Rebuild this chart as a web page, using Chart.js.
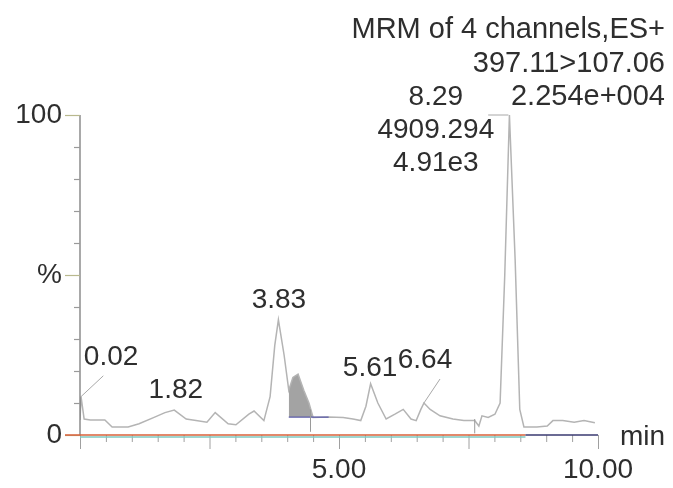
<!DOCTYPE html>
<html>
<head>
<meta charset="utf-8">
<script src="https://cdn.jsdelivr.net/npm/chart.js@4/dist/chart.umd.min.js"></script>
<style>
html,body{margin:0;padding:0;background:#fff;}
#c{display:block;}
</style>
</head>
<body>
<canvas id="c" width="673" height="488"></canvas>
<script>
// ---- data (retention time in min, relative intensity in %) ----
const times = [0.0,0.02,0.08,0.2,0.48,0.62,0.93,1.14,1.43,1.64,1.82,2.05,2.24,2.45,2.61,2.86,3.01,3.26,3.36,3.55,3.67,3.76,3.83,3.94,4.03,4.11,4.21,4.32,4.42,4.5,4.8,5.08,5.27,5.42,5.52,5.61,5.75,5.91,6.08,6.24,6.39,6.49,6.58,6.64,6.76,6.95,7.2,7.41,7.62,7.7,7.76,7.88,8.01,8.11,8.2,8.29,8.4,8.49,8.57,8.82,9.02,9.13,9.32,9.54,9.73,9.94];
const intensity = [4.7,12,5,4.7,4.7,2.5,2.5,3.5,5.5,7,7.8,5,4.5,4,7,3.5,3.2,6.5,7.5,4.5,12,28,36,25,14,18,19,14,10,5.5,5.6,5.5,5,4.5,9,16,10,5,6.5,8,5,4.5,8,10,8,6,5,4.5,4.5,2.8,6,5.5,6.5,10,50,100,55,8,2.5,2.5,2.8,4.5,4.5,4,4.5,3.8];
const shadeRange = [4.03, 4.5];
const integrationBaseline = 5.6;
const integrationRange = [4.03, 4.8];
const peakTimes = [0.02, 1.82, 3.83, 5.61, 6.64, 8.29];
const peakLabels = ['0.02', '1.82', '3.83', '5.61', '6.64', '8.29'];
const mainPeakInfo = ['4909.294', '4.91e3'];
const headerLines = ['MRM of 4 channels,ES+', '397.11>107.06', '2.254e+004'];
const xTickLabels = {5: '5.00', 10: '10.00'};
const yTickLabels = {0: '0', 50: '%', 100: '100'};
const xUnit = 'min';

// ---- derived datasets ----
const trace = times.map((t, i) => ({x: t, y: intensity[i]}));
const shade = trace.filter(p => p.x >= shadeRange[0] && p.x <= shadeRange[1]);
const integ = integrationRange.map(t => ({x: t, y: integrationBaseline}));

const FONT = "'Liberation Sans', Arial, sans-serif";
const FS = 28;
const TXT = '#2e2e2e';

// label placement (data units) for annotations
const labelPos = {
  '0.02': {x: 0.6, y: 24.4, lead: [[0.02, 12], [0.45, 18.5]]},
  '1.82': {x: 1.85, y: 14},
  '3.83': {x: 3.84, y: 42},
  '5.61': {x: 5.6, y: 21},
  '6.64': {x: 6.66, y: 23.4, lead: [[6.64, 10], [6.95, 17.5]]},
  '8.29': {x: 6.87, y: 105.6, lead: [[7.88, 100], [8.27, 100]]}
};

const decor = {
  id: 'decor',
  afterDraw(chart) {
    const ctx = chart.ctx, xs = chart.scales.x, ys = chart.scales.y;
    const X = v => xs.getPixelForValue(v), Y = v => ys.getPixelForValue(v);
    ctx.save();
    // y axis line
    ctx.strokeStyle = '#6f6f6f'; ctx.lineWidth = 1.2;
    ctx.beginPath(); ctx.moveTo(X(0), Y(100)); ctx.lineTo(X(0), Y(0)); ctx.stroke();
    // y ticks
    for (let v = 0; v <= 100; v += 10) {
      const major = v % 50 === 0;
      ctx.strokeStyle = major ? '#b9b98e' : '#9a9a9a';
      ctx.beginPath();
      ctx.moveTo(X(0) - (major ? 15 : 6), Y(v) + 0.5);
      ctx.lineTo(X(0), Y(v) + 0.5);
      ctx.stroke();
    }
    // x ticks
    ctx.strokeStyle = '#a0a0a0'; ctx.lineWidth = 1;
    for (let i = 0; i <= 20; i++) {
      const t = i * 0.5;
      const major = i % 5 === 0;
      ctx.beginPath();
      ctx.moveTo(X(t) + 0.5, Y(0));
      ctx.lineTo(X(t) + 0.5, Y(0) + (major ? 14 : 7));
      ctx.stroke();
    }
    // x axis line (coloured overlays like the original)
    ctx.lineWidth = 1.4;
    ctx.strokeStyle = '#7fc8c0';
    ctx.beginPath(); ctx.moveTo(X(0), Y(0) + 2); ctx.lineTo(X(8.6), Y(0) + 2); ctx.stroke();
    ctx.strokeStyle = '#d9603a';
    ctx.beginPath(); ctx.moveTo(X(0) - 15, Y(0)); ctx.lineTo(X(8.6), Y(0)); ctx.stroke();
    ctx.strokeStyle = '#3a3a70';
    ctx.beginPath(); ctx.moveTo(X(8.6), Y(0)); ctx.lineTo(X(10), Y(0)); ctx.stroke();
    // markers
    ctx.strokeStyle = '#9a9a9a'; ctx.lineWidth = 1;
    [[4.45, 8, 1], [7.62, 5, 0.5]].forEach(m => {
      ctx.beginPath(); ctx.moveTo(X(m[0]), Y(m[1])); ctx.lineTo(X(m[0]), Y(m[2])); ctx.stroke();
    });
    // leaders
    ctx.strokeStyle = '#a8a8a8'; ctx.lineWidth = 1;
    Object.values(labelPos).forEach(p => {
      if (!p.lead) return;
      ctx.beginPath();
      ctx.moveTo(X(p.lead[0][0]), Y(p.lead[0][1]));
      ctx.lineTo(X(p.lead[1][0]), Y(p.lead[1][1]));
      ctx.stroke();
    });
    // peak labels
    ctx.fillStyle = TXT; ctx.font = FS + 'px ' + FONT;
    ctx.textAlign = 'center'; ctx.textBaseline = 'middle';
    peakLabels.forEach(l => {
      const p = labelPos[l];
      ctx.fillText(l, X(p.x), Y(p.y));
    });
    const mp = labelPos['8.29'];
    mainPeakInfo.forEach((s, i) => ctx.fillText(s, X(mp.x), Y(mp.y) + 33 * (i + 1)));
    // header
    ctx.textAlign = 'right';
    ctx.font = '29px ' + FONT;
    headerLines.forEach((s, i) => ctx.fillText(s, 665, 30 + 33.5 * i));
    // unit
    ctx.font = FS + 'px ' + FONT;
    ctx.textAlign = 'left';
    ctx.fillText(xUnit, 620, Y(0) + 2);
    ctx.restore();
  }
};

new Chart(document.getElementById('c'), {
  type: 'line',
  data: {
    datasets: [
      {data: trace, borderColor: '#b4b4b4', borderWidth: 1.5, pointRadius: 0, tension: 0, fill: false, order: 1},
      {data: shade, borderColor: 'rgba(0,0,0,0)', backgroundColor: '#a3a3a3', pointRadius: 0, tension: 0, fill: {value: integrationBaseline}, order: 2},
      {data: integ, borderColor: '#5a5aa8', borderWidth: 1.2, pointRadius: 0, fill: false, order: 0}
    ]
  },
  options: {
    responsive: false,
    animation: false,
    devicePixelRatio: 1,
    layout: {padding: {left: 0, top: 115, right: 75, bottom: 0}},
    plugins: {legend: {display: false}, tooltip: {enabled: false}},
    scales: {
      x: {
        type: 'linear', min: 0, max: 10,
        grid: {display: false, drawTicks: false},
        border: {display: false},
        ticks: {
          stepSize: 5, autoSkip: false, maxRotation: 0, padding: 18,
          color: TXT, font: {family: FONT, size: FS},
          callback: v => xTickLabels[v] || ''
        },
        afterFit: s => { s.height = 53; }
      },
      y: {
        min: 0, max: 100,
        grid: {display: false, drawTicks: false},
        border: {display: false},
        ticks: {
          stepSize: 50, padding: 18,
          color: TXT, font: {family: FONT, size: FS},
          callback: v => yTickLabels[v] !== undefined ? yTickLabels[v] : ''
        },
        afterFit: s => { s.width = 80; }
      }
    }
  },
  plugins: [decor]
});
</script>
</body>
</html>
